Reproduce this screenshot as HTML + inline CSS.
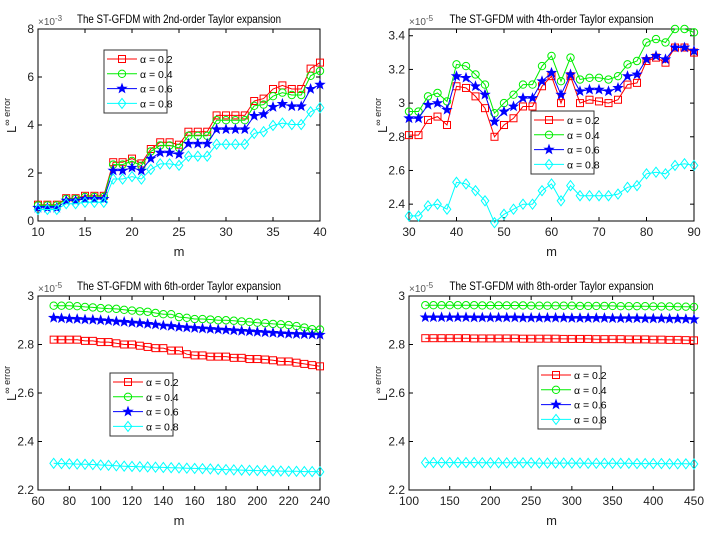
<!DOCTYPE html>
<html><head><meta charset="utf-8"><style>
body{margin:0;background:#fff;}
svg{display:block;font-family:"Liberation Sans",sans-serif;}
</style></head><body>
<svg id="fig" width="715" height="537" viewBox="0 0 715 537" xmlns="http://www.w3.org/2000/svg"></svg>
<script>
// ---- Panel 1 data (x1e-3) ----
const p1M = [10,11,12,13,14,15,16,17,18,19,20,21,22,23,24,25,26,27,28,29,30,31,32,33,34,35,36,37,38,39,40];
const p1A2 = [0.68,0.68,0.68,0.95,0.95,1.05,1.05,1.05,2.45,2.45,2.6,2.4,3.0,3.28,3.28,3.18,3.72,3.72,3.72,4.4,4.4,4.4,4.4,5.0,5.1,5.5,5.65,5.5,5.5,6.35,6.6];
const p1A4 = [0.65,0.65,0.65,0.92,0.92,1.0,1.0,1.0,2.35,2.35,2.5,2.3,2.9,3.15,3.15,3.05,3.55,3.55,3.55,4.2,4.2,4.2,4.2,4.8,4.85,5.2,5.35,5.25,5.25,6.05,6.25];
const p1A6 = [0.55,0.55,0.55,0.85,0.85,0.92,0.92,0.92,2.1,2.1,2.22,2.1,2.6,2.85,2.85,2.78,3.22,3.22,3.22,3.82,3.82,3.82,3.82,4.38,4.45,4.75,4.88,4.78,4.78,5.5,5.68];
const p1A8 = [0.48,0.48,0.48,0.72,0.72,0.78,0.78,0.78,1.75,1.75,1.85,1.75,2.15,2.38,2.38,2.32,2.7,2.7,2.7,3.2,3.2,3.2,3.2,3.65,3.72,3.98,4.08,4.02,4.02,4.55,4.72];
const p1XTicks = [10,15,20,25,30,35,40];
const p1YTicks = [0,2,4,6,8];
// ---- Panel 2 data (x1e-5) ----
const p2M = [30,32,34,36,38,40,42,44,46,48,50,52,54,56,58,60,62,64,66,68,70,72,74,76,78,80,82,84,86,88,90];
const p2A2 = [2.81,2.81,2.90,2.92,2.87,3.10,3.09,3.04,2.97,2.80,2.87,2.91,2.98,2.98,3.10,3.16,3.00,3.16,3.00,3.02,3.01,3.00,3.02,3.11,3.12,3.25,3.27,3.24,3.33,3.33,3.30];
const p2A4 = [2.95,2.95,3.04,3.06,3.01,3.23,3.22,3.17,3.11,2.94,3.00,3.05,3.11,3.11,3.22,3.28,3.13,3.27,3.14,3.15,3.15,3.14,3.16,3.23,3.25,3.36,3.38,3.36,3.44,3.44,3.42];
const p2A6 = [2.91,2.91,2.99,3.00,2.96,3.16,3.15,3.10,3.05,2.89,2.95,2.98,3.03,3.03,3.13,3.18,3.05,3.17,3.07,3.08,3.08,3.07,3.09,3.16,3.17,3.26,3.28,3.26,3.33,3.33,3.31];
const p2A8 = [2.33,2.33,2.39,2.40,2.37,2.53,2.52,2.48,2.42,2.29,2.34,2.37,2.40,2.40,2.48,2.52,2.42,2.51,2.45,2.45,2.45,2.45,2.46,2.50,2.51,2.58,2.59,2.58,2.63,2.64,2.63];
const p2XTicks = [30,40,50,60,70,80,90];
const p2YTicks = [2.4,2.6,2.8,3,3.2,3.4];
// ---- Panel 3 data (x1e-5) ----
const p3M = [70,75,80,85,90,95,100,105,110,115,120,125,130,135,140,145,150,155,160,165,170,175,180,185,190,195,200,205,210,215,220,225,230,235,240];
const p3A2 = [2.82,2.82,2.82,2.82,2.815,2.815,2.81,2.81,2.805,2.80,2.80,2.795,2.79,2.785,2.785,2.775,2.775,2.76,2.755,2.755,2.75,2.75,2.75,2.745,2.745,2.74,2.74,2.738,2.735,2.73,2.73,2.725,2.72,2.715,2.71];
const p3A4 = [2.96,2.96,2.96,2.958,2.955,2.953,2.95,2.948,2.947,2.943,2.94,2.937,2.935,2.93,2.925,2.925,2.913,2.91,2.905,2.905,2.903,2.90,2.90,2.898,2.895,2.893,2.89,2.888,2.885,2.883,2.88,2.876,2.87,2.863,2.862];
const p3A6 = [2.91,2.908,2.906,2.905,2.903,2.902,2.9,2.898,2.895,2.893,2.89,2.888,2.885,2.882,2.878,2.876,2.872,2.87,2.868,2.866,2.864,2.862,2.86,2.858,2.856,2.854,2.852,2.85,2.848,2.846,2.844,2.843,2.842,2.841,2.84];
const p3A8 = [2.31,2.309,2.308,2.307,2.306,2.305,2.303,2.302,2.3,2.298,2.297,2.296,2.295,2.294,2.293,2.292,2.291,2.29,2.289,2.288,2.287,2.285,2.284,2.283,2.282,2.281,2.28,2.28,2.279,2.278,2.277,2.277,2.276,2.276,2.275];
const p3XTicks = [60,80,100,120,140,160,180,200,220,240];
const p3YTicks = [2.2,2.4,2.6,2.8,3];
// ---- Panel 4 data (x1e-5) ----
const p4M = [120,130,140,150,160,170,180,190,200,210,220,230,240,250,260,270,280,290,300,310,320,330,340,350,360,370,380,390,400,410,420,430,440,450];
const p4A2 = [2.826,2.826,2.826,2.826,2.826,2.826,2.825,2.825,2.825,2.825,2.825,2.825,2.824,2.824,2.824,2.824,2.824,2.823,2.823,2.823,2.823,2.822,2.822,2.822,2.822,2.821,2.821,2.821,2.82,2.82,2.819,2.819,2.818,2.817];
const p4A4 = [2.962,2.962,2.962,2.962,2.962,2.962,2.962,2.961,2.961,2.961,2.961,2.961,2.961,2.96,2.96,2.96,2.96,2.96,2.96,2.959,2.959,2.959,2.959,2.959,2.958,2.958,2.958,2.958,2.957,2.957,2.957,2.956,2.956,2.955];
const p4A6 = [2.912,2.912,2.912,2.912,2.912,2.912,2.911,2.911,2.911,2.911,2.911,2.911,2.91,2.91,2.91,2.91,2.91,2.91,2.909,2.909,2.909,2.909,2.909,2.908,2.908,2.908,2.908,2.907,2.907,2.907,2.906,2.906,2.905,2.904];
const p4A8 = [2.313,2.313,2.313,2.313,2.313,2.313,2.313,2.312,2.312,2.312,2.312,2.312,2.312,2.312,2.311,2.311,2.311,2.311,2.311,2.311,2.31,2.31,2.31,2.31,2.31,2.31,2.309,2.309,2.309,2.309,2.308,2.308,2.308,2.307];
const p4XTicks = [100,150,200,250,300,350,400,450];
const p4YTicks = [2.2,2.4,2.6,2.8,3];

const colors = ['#ff0000','#00ee00','#0000ff','#00ffff'];
const markers = ['square','circle','star','diamond'];
const labels = ['α = 0.2','α = 0.4','α = 0.6','α = 0.8'];
const NS='http://www.w3.org/2000/svg';
const fig=document.getElementById('fig');
function el(tag,attrs,parent){const e=document.createElementNS(NS,tag);for(const k in attrs)e.setAttribute(k,attrs[k]);(parent||fig).appendChild(e);return e;}

function marker(g,type,cx,cy,c){
  let m;
  if(type==='square') m=el('rect',{x:cx-3.5,y:cy-3.5,width:7,height:7,fill:'none',stroke:c,'stroke-width':1},g);
  else if(type==='circle') m=el('circle',{cx:cx,cy:cy,r:3.7,fill:'none',stroke:c,'stroke-width':1},g);
  else if(type==='diamond') m=el('polygon',{points:`${cx},${cy-5} ${cx+3.8},${cy} ${cx},${cy+5} ${cx-3.8},${cy}`,fill:'none',stroke:c,'stroke-width':1},g);
  else {let p=[];for(let i=0;i<10;i++){const r=i%2?2:4.8;const a=-Math.PI/2+i*Math.PI/5;p.push((cx+r*Math.cos(a)).toFixed(2)+','+(cy+r*Math.sin(a)).toFixed(2));}
    m=el('polygon',{points:p.join(' '),fill:c,stroke:c,'stroke-width':0.8},g);}
  return m;
}

function panel(id,box,xr,yr,xt,yt,ms,series,title,exp,leg,fmt){
  const g=el('g',{});
  
  
  const [L,T,R,B]=box;
  const sx=v=>L+(v-xr[0])/(xr[1]-xr[0])*(R-L);
  const sy=v=>B-(v-yr[0])/(yr[1]-yr[0])*(B-T);
  const fr=el('rect',{x:L,y:T,width:R-L,height:B-T,fill:'#fff',stroke:'#000','stroke-width':1},g);
  
  
  xt.forEach(v=>{const x=sx(v);
    el('line',{x1:x,y1:B,x2:x,y2:B-4,stroke:'#000'},g);el('line',{x1:x,y1:T,x2:x,y2:T+4,stroke:'#000'},g);
    const t=el('text',{x:x,y:B+15,'text-anchor':'middle','font-size':12,fill:'#222'},g);t.textContent=v;
    
    });
  yt.forEach(v=>{const y=sy(v);
    el('line',{x1:L,y1:y,x2:L+4,y2:y,stroke:'#000'},g);el('line',{x1:R,y1:y,x2:R-4,y2:y,stroke:'#000'},g);
    const t=el('text',{x:L-4,y:y+4,'text-anchor':'end','font-size':12,fill:'#222'},g);t.textContent=fmt?fmt(v):v;
    
    });
  const tt=el('text',{x:(L+R)/2,y:T-6,'text-anchor':'middle','font-size':12,fill:'#000',textLength:204,lengthAdjust:'spacingAndGlyphs'},g);tt.textContent=title;
  
  
  const ex=el('text',{x:L,y:T-4,'font-size':10,fill:'#555'},g);ex.innerHTML='×10<tspan dy="-4" font-size="8">'+exp+'</tspan>';
  
  
  const xl=el('text',{x:(L+R)/2,y:B+35,'text-anchor':'middle','font-size':13,fill:'#222'},g);xl.textContent='m';
  
  
  const yl=el('text',{transform:`translate(${L-22},${(T+B)/2+8}) rotate(-90)`,'font-size':13,fill:'#222'},g);yl.innerHTML='L<tspan dy="-6" font-size="9">∞ error</tspan>';
  
  
  series.forEach((s,i)=>{const sg=el('g',{},g);
    
    
    el('polyline',{points:ms.map((m,j)=>sx(m).toFixed(1)+','+sy(s[j]).toFixed(1)).join(' '),fill:'none',stroke:colors[i],'stroke-width':1},sg);
    ms.forEach((m,j)=>marker(sg,markers[i],sx(m),sy(s[j]),colors[i]));});
  const lg=el('g',{},g);
  
  
  el('rect',{x:leg[0],y:leg[1],width:63,height:63,fill:'#fff',stroke:'#333','stroke-width':1},lg);
  labels.forEach((lb,i)=>{const y=leg[1]+9+i*14.8;
    const e=el('g',{},lg);
    
    
    el('line',{x1:leg[0]+3,y1:y,x2:leg[0]+33,y2:y,stroke:colors[i],'stroke-width':1},e);
    marker(e,markers[i],leg[0]+18,y,colors[i]);
    const t=el('text',{x:leg[0]+36,y:y+4,'font-size':10.5,fill:'#000'},e);t.textContent=lb;});
}
const f1=v=>v.toFixed(1).replace(/\.0$/,'');
panel('panel-2nd-order',[38,29,320,221],[10,40],[0,8],p1XTicks,p1YTicks,p1M,[p1A2,p1A4,p1A6,p1A8],'The ST-GFDM with 2nd-order Taylor expansion','-3',[104,50],null);
panel('panel-4th-order',[409,29,694,221],[30,90],[2.3,3.44],p2XTicks,p2YTicks,p2M,[p2A2,p2A4,p2A6,p2A8],'The ST-GFDM with 4th-order Taylor expansion','-5',[531,111],f1);
panel('panel-6th-order',[38,296,320,490],[60,240],[2.2,3],p3XTicks,p3YTicks,p3M,[p3A2,p3A4,p3A6,p3A8],'The ST-GFDM with 6th-order Taylor expansion','-5',[110,373],f1);
panel('panel-8th-order',[409,296,694,490],[100,450],[2.2,3],p4XTicks,p4YTicks,p4M,[p4A2,p4A4,p4A6,p4A8],'The ST-GFDM with 8th-order Taylor expansion','-5',[538,366],f1);
</script>
</body></html>
